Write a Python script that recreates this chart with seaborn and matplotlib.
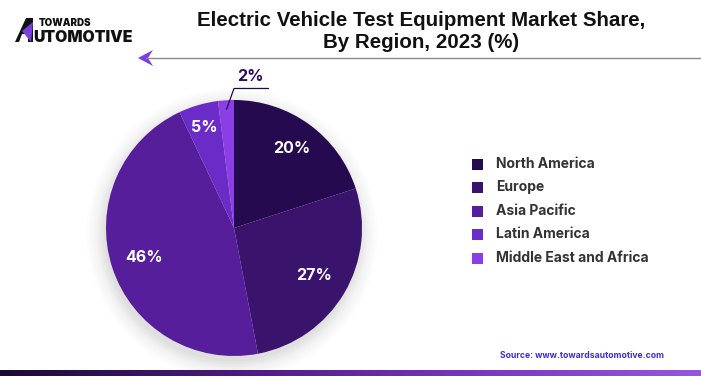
import numpy as np
import matplotlib
matplotlib.use("Agg")
import matplotlib.pyplot as plt
import seaborn as sns
from matplotlib.colors import LinearSegmentedColormap
from matplotlib.patches import Ellipse

# data
regions = ["North America", "Europe", "Asia Pacific", "Latin America", "Middle East and Africa"]
shares = [20, 27, 46, 5, 2]
colors = ["#250a50", "#3a136d", "#561e9b", "#6b2bc6", "#8b3de6"]

sns.set_theme(style="white")
plt.rcParams["font.family"] = ["Inter", "Roboto", "DejaVu Sans"]

W, H = 701, 376
fig = plt.figure(figsize=(W / 100, H / 100), dpi=100)
fig.patch.set_facecolor("white")

def fx(x):
    return x / W

def fy(y):
    return (H - y) / H

# pie axes (center ~ (234,228) px, radius ~128 px)
cx, cy, r = 234, 228, 128
ax = fig.add_axes([fx(cx - r), fy(cy + r), 2 * r / W, 2 * r / H])
ax.axis("off")

# soft shadow under the pie
for i, a in enumerate(np.linspace(0.05, 0.008, 8)):
    ax.add_patch(Ellipse((-0.015, -0.045), 2.0 + i * 0.04, 2.0 + i * 0.04, color="#777777",
                         alpha=a, zorder=0, clip_on=False, lw=0))

wedges, _ = ax.pie(shares, colors=colors, startangle=90, counterclock=False,
                   radius=1, wedgeprops=dict(linewidth=0))
for w in wedges:
    w.set_zorder(2)
ax.set_xlim(-1, 1)
ax.set_ylim(-1, 1)
ax.set_aspect("equal")

label_r = [0.77, 0.73, 0.74, 0.82]
theta = 90
for i, (s, w) in enumerate(zip(shares, wedges)):
    mid = theta - s * 3.6 / 2
    theta -= s * 3.6
    if i < 4:
        rr = label_r[i]
        ax.text(rr * np.cos(np.radians(mid)), rr * np.sin(np.radians(mid)), f"{s}%",
                ha="center", va="center", color="white", fontsize=11.5, fontweight="bold", zorder=3)
    else:
        x0, y0 = 0.93 * np.cos(np.radians(mid)), 0.93 * np.sin(np.radians(mid))
        ax.plot([x0, 0.0, 0.27], [y0, 1.09, 1.09], color="#1f0a45", lw=0.9, clip_on=False, zorder=3)
        ax.text(0.13, 1.18, f"{s}%", ha="center", va="center", color="#2a0d5c",
                fontsize=11.5, fontweight="bold", clip_on=False)

# legend
leg_y = [164, 187, 211, 234, 258]
for name, c, y in zip(regions, colors, leg_y):
    fig.patches.append(plt.Rectangle((fx(472), fy(y + 5.5)), 11 / W, 11 / H,
                                     transform=fig.transFigure, facecolor=c, lw=0))
    fig.text(fx(496), fy(y), name, ha="left", va="center", fontsize=10,
             fontweight="bold", color="#333333")

# title
title_font = ["Liberation Sans", "DejaVu Sans"]
fig.text(fx(421), fy(20.5), "Electric Vehicle Test Equipment Market Share,",
         ha="center", va="center", fontsize=14.8, fontweight="bold", color="#111111",
         family=title_font)
fig.text(fx(421), fy(43), "By Region, 2023 (%)",
         ha="center", va="center", fontsize=14.8, fontweight="bold", color="#111111",
         family=title_font)

# logo
icon = [(15, 42), (26, 18), (33, 18), (33, 42), (28, 42), (28, 34), (22, 34), (19, 42)]
fig.patches.append(plt.Polygon([(fx(x), fy(y)) for x, y in icon], closed=True,
                               transform=fig.transFigure, facecolor="#111111", lw=0))
accent = [(22, 31), (33, 22), (31, 42)]
fig.patches.append(plt.Polygon([(fx(x), fy(y)) for x, y in accent], closed=True,
                               transform=fig.transFigure, facecolor="#7b3fe0", lw=0))
fig.text(fx(39), fy(23), "TOWARDS", ha="left", va="center", fontsize=7,
         fontweight="black", color="#111111")
fig.text(fx(33), fy(37), "UTOMOTIVE", ha="left", va="center", fontsize=11.4,
         fontweight="black", color="#111111")

# divider line with arrow
fig.add_artist(plt.Line2D([fx(146), 1.0], [fy(58)] * 2, color="#8a8a8a", lw=1.0))
fig.patches.append(plt.Polygon([[fx(138), fy(58)], [fx(153), fy(50)],
                                [fx(148), fy(58)], [fx(153), fy(66)]],
                               closed=True, transform=fig.transFigure,
                               facecolor="#7b3fe0", lw=0))

# source
fig.text(fx(664), fy(356), "Source: www.towardsautomotive.com", ha="right",
         va="center", fontsize=6.2, fontweight="bold", color="#3a2fcf")

# bottom gradient band
cmap = LinearSegmentedColormap.from_list("band", ["#1a0a35", "#4a1a80", "#7a35c0", "#9a55e0"])
bax = fig.add_axes([0, 0, 1, 6 / H])
bax.imshow(np.linspace(0, 1, 256)[None, :], aspect="auto", cmap=cmap)
bax.axis("off")

fig.savefig("out.png", dpi=100)
